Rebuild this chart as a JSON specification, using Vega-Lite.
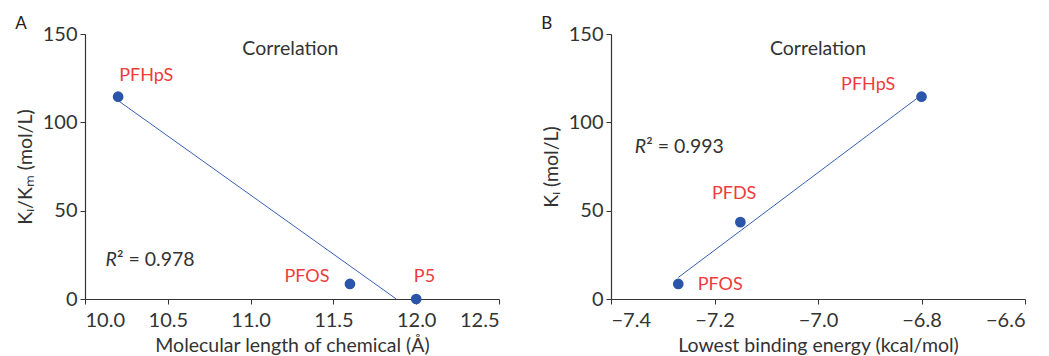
{
  "$schema": "https://vega.github.io/schema/vega-lite/v6.json",
  "padding": {"left": 15, "top": 15, "right": 5, "bottom": 0},
  "background": "white",
  "spacing": 41,
  "config": {
    "font": "Lato",
    "view": {"stroke": null},
    "axis": {
      "grid": false,
      "domainColor": "#333333",
      "tickColor": "#333333",
      "labelColor": "#333333",
      "titleColor": "#333333",
      "labelFontSize": 20,
      "titleFontSize": 19.5,
      "titleFontWeight": "normal",
      "tickSize": 5,
      "labelPadding": 3,
      "domainWidth": 1.2
    },
    "title": {"fontSize": 17, "fontWeight": "normal", "color": "#222222", "anchor": "start", "frame": "bounds", "offset": -9}
  },
  "datasets": {
    "lenPoints": [
      {"chemical": "PFHpS", "length": 10.2, "ratio": 114.5},
      {"chemical": "PFOS", "length": 11.6, "ratio": 8.5},
      {"chemical": "P5", "length": 12.0, "ratio": 0}
    ],
    "lenFit": [
      {"length": 10.2, "ratio": 112.3},
      {"length": 11.88, "ratio": 0}
    ],
    "lenLabels": [
      {"text": "PFHpS", "length": 10.37, "ratio": 126},
      {"text": "PFOS", "length": 11.34, "ratio": 12.5},
      {"text": "P5", "length": 12.05, "ratio": 12.5}
    ],
    "lenNotes": [
      {"text": "Correlation", "length": 11.24, "ratio": 141.5}
    ],
    "lenR2": [
      {"r": "R", "rest": "² = 0.978", "length": 10.193, "ratio": 22}
    ],
    "enPoints": [
      {"chemical": "PFOS", "energy": -7.27, "ki": 8.5},
      {"chemical": "PFDS", "energy": -7.15, "ki": 43.5},
      {"chemical": "PFHpS", "energy": -6.8, "ki": 114.5}
    ],
    "enFit": [
      {"energy": -7.27, "ki": 12.2},
      {"energy": -6.8, "ki": 115.5}
    ],
    "enLabels": [
      {"text": "PFHpS", "energy": -6.903, "ki": 121},
      {"text": "PFDS", "energy": -7.162, "ki": 59.4},
      {"text": "PFOS", "energy": -7.189, "ki": 8}
    ],
    "enNotes": [
      {"text": "Correlation", "energy": -7.0, "ki": 141.5}
    ],
    "enR2": [
      {"r": "R", "rest": "² = 0.993", "energy": -7.332, "ki": 86}
    ]
  },
  "hconcat": [
    {
      "width": 414,
      "height": 265,
      "title": {"text": "A"},
      "encoding": {
        "x": {"field": "length", "type": "quantitative", "scale": {"domain": [10, 12.5], "nice": false},
              "axis": {"values": [10, 10.5, 11, 11.5, 12, 12.5], "format": ".1f", "title": "Molecular length of chemical (Å)", "labelPadding": 6, "titlePadding": 6}},
        "y": {"field": "ratio", "type": "quantitative", "scale": {"domain": [0, 150], "nice": false},
              "axis": {"values": [0, 50, 100, 150], "title": "Kᵢ/Kₘ (mol/L)", "titlePadding": 7}}
      },
      "layer": [
        {"data": {"name": "lenFit"}, "mark": {"type": "line", "color": "#3A5FB5", "strokeWidth": 1}},
        {"data": {"name": "lenPoints"}, "mark": {"type": "circle", "size": 115, "opacity": 1, "color": "#2A55A8"}},
        {"data": {"name": "lenLabels"}, "mark": {"type": "text", "fontSize": 18, "color": "#EE3B3B", "align": "center", "baseline": "middle"}, "encoding": {"text": {"field": "text"}}},
        {"data": {"name": "lenNotes"}, "mark": {"type": "text", "fontSize": 19.5, "color": "#333333", "align": "center", "baseline": "middle"}, "encoding": {"text": {"field": "text"}}},
        {"data": {"name": "lenR2"}, "mark": {"type": "text", "fontSize": 19.5, "fontStyle": "italic", "color": "#333333", "align": "right", "baseline": "middle"}, "encoding": {"text": {"field": "r"}}},
        {"data": {"name": "lenR2"}, "mark": {"type": "text", "fontSize": 19.5, "color": "#333333", "align": "left", "baseline": "middle"}, "encoding": {"text": {"field": "rest"}}}
      ]
    },
    {
      "width": 414,
      "height": 265,
      "title": {"text": "B"},
      "encoding": {
        "x": {"field": "energy", "type": "quantitative", "scale": {"domain": [-7.4, -6.6], "nice": false, "zero": false},
              "axis": {"values": [-7.4, -7.2, -7.0, -6.8, -6.6], "format": ".1f", "title": "Lowest binding energy (kcal/mol)", "labelPadding": 6, "titlePadding": 6}},
        "y": {"field": "ki", "type": "quantitative", "scale": {"domain": [0, 150], "nice": false},
              "axis": {"values": [0, 50, 100, 150], "title": "Kᵢ (mol/L)", "titlePadding": 7}}
      },
      "layer": [
        {"data": {"name": "enFit"}, "mark": {"type": "line", "color": "#3A5FB5", "strokeWidth": 1}},
        {"data": {"name": "enPoints"}, "mark": {"type": "circle", "size": 115, "opacity": 1, "color": "#2A55A8"}},
        {"data": {"name": "enLabels"}, "mark": {"type": "text", "fontSize": 18, "color": "#EE3B3B", "align": "center", "baseline": "middle"}, "encoding": {"text": {"field": "text"}}},
        {"data": {"name": "enNotes"}, "mark": {"type": "text", "fontSize": 19.5, "color": "#333333", "align": "center", "baseline": "middle"}, "encoding": {"text": {"field": "text"}}},
        {"data": {"name": "enR2"}, "mark": {"type": "text", "fontSize": 19.5, "fontStyle": "italic", "color": "#333333", "align": "right", "baseline": "middle"}, "encoding": {"text": {"field": "r"}}},
        {"data": {"name": "enR2"}, "mark": {"type": "text", "fontSize": 19.5, "color": "#333333", "align": "left", "baseline": "middle"}, "encoding": {"text": {"field": "rest"}}}
      ]
    }
  ]
}
